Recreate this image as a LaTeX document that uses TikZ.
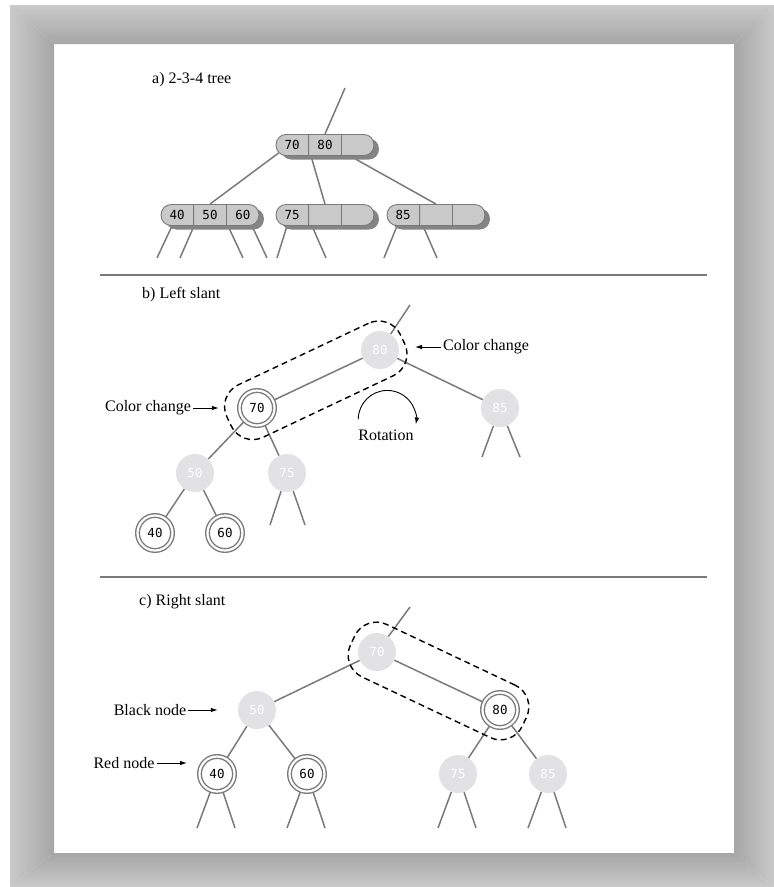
\documentclass[tikz,border=0pt]{standalone}
\usepackage{fontspec}
\setmainfont{Liberation Serif}
\newfontfamily\keyfont{DejaVu Sans Mono}
\usetikzlibrary{positioning,arrows.meta,shapes.multipart,shadows,backgrounds,calc}

\definecolor{edgegray}{HTML}{7A7A7A}
\definecolor{blackfill}{HTML}{E2E2E4}
\definecolor{keyfill}{HTML}{C9C9C9}
\definecolor{keyshadow}{HTML}{848484}
\definecolor{framelight}{HTML}{CACACA}
\definecolor{framedark}{HTML}{A6A6A6}

\begin{document}
\begin{tikzpicture}[x=1pt,y=-1pt,
		node distance=20pt,
		on grid,
		>={Latex[length=7pt,width=4.5pt]},
		caption/.style={font=\fontsize{16}{19}\selectfont, inner sep=2pt},
		edge/.style={draw=edgegray, line width=1.5pt},
		pointer/.style={->, line width=0.9pt},
		keybox/.style={
			rectangle split,
			rectangle split horizontal,
			rectangle split parts=3,
			draw=edgegray,
			line width=0.9pt,
			fill=keyfill,
			rounded corners=10pt,
			text width=24pt,
			align=center,
			inner xsep=4pt,
			inner ysep=5pt,
			minimum height=21pt,
			font=\keyfont\fontsize{12.5}{14}\selectfont,
			drop shadow={shadow xshift=5pt, shadow yshift=-4pt, opacity=1, fill=keyshadow}
		},
		blacknode/.style={
			circle,
			minimum size=38pt,
			inner sep=0pt,
			fill=blackfill,
			text=white,
			font=\keyfont\fontsize{12.5}{14}\selectfont
		},
		rednode/.style={
			circle,
			minimum size=35pt,
			inner sep=0pt,
			draw=edgegray,
			line width=1.4pt,
			double=white,
			double distance=2.2pt,
			fill=white,
			font=\keyfont\fontsize{12.5}{14}\selectfont
		},
		pair/.style={
			draw,
			dash pattern=on 6pt off 4pt,
			line width=1.4pt,
			rounded corners=24pt,
			minimum height=58pt
		}]
	
	\useasboundingbox (0,0) rectangle (774,887);
	
	% frame
	\begin{pgfonlayer}{background}
		\fill[white] (0,0) rectangle (774,887);
		\shade[top color=framelight, bottom color=framedark] (10,5) -- (774,5) -- (734,44) -- (54,44) -- cycle;
		\shade[left color=framelight, right color=framedark] (10,5) -- (54,44) -- (54,853) -- (10,887) -- cycle;
		\shade[left color=framedark, right color=framelight] (774,5) -- (734,44) -- (734,853) -- (774,887) -- cycle;
		\shade[top color=framedark, bottom color=framelight] (10,887) -- (54,853) -- (734,853) -- (774,887) -- cycle;
	\end{pgfonlayer}
	
	\draw[edgegray, line width=2pt] (100,275) -- (707,275);
	
	\draw[edgegray, line width=2pt] (100,577) -- (707,577);
	
	% a) 2-3-4 tree
	\node[caption, anchor=west] (acap) at (150,80) {a) 2-3-4 tree};
	
	\node[keybox] (aroot) at (325,145) {70\nodepart{two}80\nodepart{three}};
	
	\node[keybox] (aleft) [below left=70pt and 115pt of aroot] {40\nodepart{two}50\nodepart{three}60};
	
	\node[keybox] (amid) [below=70pt of aroot] {75\nodepart{two}\nodepart{three}};
	
	\node[keybox] (aright) [below right=70pt and 111pt of aroot] {85\nodepart{two}\nodepart{three}};
	
	\coordinate (atop) at (345,88);
	
	% b) left slant
	\node[caption, anchor=west] (bcap) at (140,295) {b) Left slant};
	
	\node[blacknode] (b80) at (380,350) {80};
	
	\node[rednode] (b70) [below left=58pt and 123pt of b80] {70};
	
	\node[blacknode] (b85) [below right=58pt and 120pt of b80] {85};
	
	\node[blacknode] (b50) [below left=65pt and 62pt of b70] {50};
	
	\node[blacknode] (b75) [below right=65pt and 30pt of b70] {75};
	
	\node[rednode] (b40) [below left=60pt and 40pt of b50] {40};
	
	\node[rednode] (b60) [below right=60pt and 30pt of b50] {60};
	
	\coordinate (btop) at (410,305);
	
	\node[caption] (bleftcc) [left=109pt of b70] {Color change};
	
	\node[caption] (brightcc) [right=106pt of b80, yshift=3pt] {Color change};
	
	\node[caption] (brot) [below=85pt of b80, xshift=6pt] {Rotation};
	
	\node[pair, rotate=25.3, minimum width=192pt, xshift=-3pt] (bpair) at ($(b70)!0.5!(b80)$) {};
	
	% c) right slant
	\node[caption, anchor=west] (ccap) at (137,602) {c) Right slant};
	
	\node[blacknode] (c70) at (377,652) {70};
	
	\node[blacknode] (c50) [below left=58pt and 120pt of c70] {50};
	
	\node[rednode] (c80) [below right=58pt and 123pt of c70] {80};
	
	\node[rednode] (c40) [below left=64pt and 40pt of c50] {40};
	
	\node[rednode] (c60) [below right=64pt and 50pt of c50] {60};
	
	\node[blacknode] (c75) [below left=64pt and 42pt of c80] {75};
	
	\node[blacknode] (c85) [below right=64pt and 48pt of c80] {85};
	
	\coordinate (ctop) at (410,607);
	
	\node[caption] (cblack) [left=107pt of c50] {Black node};
	
	\node[caption] (cred) [left=93pt of c40, yshift=11pt] {Red node};
	
	\node[pair, rotate=-25.3, minimum width=190pt] (cpair) at ($(c70)!0.5!(c80)$) {};
	
	% connectors
	\begin{pgfonlayer}{background}
		\draw[edge] (atop) -- (aroot.north);
		\draw[edge] ([xshift=3pt,yshift=3pt]aroot.south west) -- (aleft.north);
		\draw[edge] ([xshift=-14pt]aroot.south) -- (amid.north);
		\draw[edge] ([xshift=25pt]aroot.south) -- (aright.north);
		
		\draw[edge] ([xshift=-38pt]aleft.south) -- +(-15,32);
		\draw[edge] ([xshift=-16pt]aleft.south) -- +(-14,32);
		\draw[edge] ([xshift=18pt]aleft.south) -- +(15,32);
		\draw[edge] ([xshift=42pt]aleft.south) -- +(15,32);
		\draw[edge] ([xshift=-38pt]amid.south) -- +(-10,32);
		\draw[edge] ([xshift=-13pt]amid.south) -- +(14,32);
		\draw[edge] ([xshift=-39pt]aright.south) -- +(-13,32);
		\draw[edge] ([xshift=-13pt]aright.south) -- +(14,32);
		
		\draw[edge] (btop) -- (b80);
		\draw[edge] (b80) -- (b70);
		\draw[edge] (b80) -- (b85);
		\draw[edge] (b70) -- (b50);
		\draw[edge] (b70) -- (b75);
		\draw[edge] (b50) -- (b40);
		\draw[edge] (b50) -- (b60);
		\draw[edge] (b75) -- +(-17,52);
		\draw[edge] (b75) -- +(18,52);
		\draw[edge] (b85) -- +(-18,49);
		\draw[edge] (b85) -- +(20,49);
		
		\draw[edge] (ctop) -- (c70);
		\draw[edge] (c70) -- (c50);
		\draw[edge] (c70) -- (c80);
		\draw[edge] (c50) -- (c40);
		\draw[edge] (c50) -- (c60);
		\draw[edge] (c80) -- (c75);
		\draw[edge] (c80) -- (c85);
		\draw[edge] (c40) -- +(-20,54);
		\draw[edge] (c40) -- +(18,54);
		\draw[edge] (c60) -- +(-20,54);
		\draw[edge] (c60) -- +(18,54);
		\draw[edge] (c75) -- +(-20,54);
		\draw[edge] (c75) -- +(18,54);
		\draw[edge] (c85) -- +(-20,54);
		\draw[edge] (c85) -- +(18,54);
	\end{pgfonlayer}
	
	\draw[pointer, shorten >=20pt] (bleftcc) -- (b70);
	
	\draw[pointer, shorten >=35pt] (brightcc) -- (brightcc -| b80);
	
	\draw[pointer] ([xshift=2pt,yshift=8pt]brot.north west) arc[start angle=180, end angle=-10, radius=29pt];
	
	\draw[pointer, shorten >=20pt] (cblack) -- (c50);
	
	\draw[pointer, shorten >=30pt] (cred) -- (cred -| c40);
	
\end{tikzpicture}
\end{document}
